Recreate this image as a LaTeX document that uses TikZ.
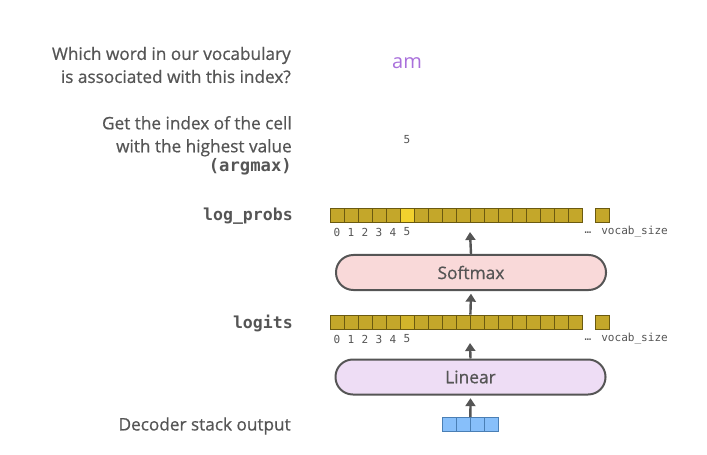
\documentclass[tikz,border=0pt]{standalone}
\usepackage{fontspec}
\setmainfont{Open Sans}
\setmonofont{DejaVu Sans Mono}
\newfontfamily\semifont{Open Sans}[FakeBold=0.7]
\usetikzlibrary{arrows.meta, positioning}

\definecolor{txtgray}{HTML}{555555}
\definecolor{cellgold}{HTML}{C4A72A}
\definecolor{cellhi}{HTML}{F2D12E}
\definecolor{celledge}{HTML}{6B5A10}
\definecolor{vecblue}{HTML}{87BFFA}
\definecolor{vecedge}{HTML}{4A7FB5}
\definecolor{softpink}{HTML}{F9D9D9}
\definecolor{linlav}{HTML}{EEDDF5}
\definecolor{wordpurple}{HTML}{A970DB}

\begin{document}
\begin{tikzpicture}[x=0.75pt, y=0.75pt,
    cell/.style={draw=celledge, line width=0.6pt, fill=cellgold,
                 minimum size=10.5pt, inner sep=0pt},
    vec/.style={draw=vecedge, line width=0.6pt, fill=vecblue,
                minimum size=10.5pt, inner sep=0pt},
    layer/.style={draw=txtgray, line width=1.5pt, rounded corners=13pt,
                  minimum width=202.5pt, minimum height=26.25pt,
                  font=\fontsize{13}{15}\semifont, text=txtgray},
    side/.style={anchor=east, align=right, text=txtgray, inner sep=0pt,
                 font=\fontsize{12.9}{17.25}\semifont},
    tag/.style={anchor=east, text=txtgray, inner sep=0pt,
                font=\fontsize{12.4}{14}\selectfont\ttfamily\bfseries},
    idx/.style={text=txtgray, font=\fontsize{8.3}{10}\selectfont\ttfamily,
                inner sep=0pt},
    up/.style={-{Triangle[length=6pt, width=7.5pt]}, line width=1.8pt,
               draw=txtgray}]
  \useasboundingbox (0,0) rectangle (707,454);

  % Left column texts
  \node[side] (q1) at (291,389)
    {Which word in our vocabulary\\is associated with this index?};
  \node[side] (q2) at (292,308.5)
    {Get the index of the cell\\with the highest value\\[-3pt]{\ttfamily\bfseries (argmax)}};
  \node[tag] (tlp) at (293,238) {log\_probs};
  \node[tag] (tlg) at (293,131) {logits};
  \node[side] (tdec) at (291,28) {Decoder stack output};

  % Results
  \node[text=wordpurple, font=\fontsize{15}{17}\selectfont] (word) at (407,391) {am};
  \node[idx] (argmax) at (407,314) {5};

  % log_probs cells
  \foreach \i in {0,...,17}
    \node[cell] (lp\i) at (337+14*\i,239) {};
  \node[cell, fill=cellhi] at (lp5) {};
  \node[cell] (lpN) at (602,239) {};
  \foreach \i in {0,...,5}
    \node[idx] at (337+14*\i,222) {\i};
  \node[idx] at (588,221) {…};
  \node[idx, anchor=west] at (601,222) {vocab\_size};

  % Softmax
  \node[layer, fill=softpink] (soft) at (471,181.5) {Softmax};

  % logits cells
  \foreach \i in {0,...,17}
    \node[cell] (lg\i) at (337+14*\i,132) {};
  \node[cell, fill=cellgold!70!cellhi] at (lg5) {};
  \node[cell] (lgN) at (602,132) {};
  \foreach \i in {0,...,5}
    \node[idx] at (337+14*\i,115) {\i};
  \node[idx] at (588,114) {…};
  \node[idx, anchor=west] at (601,115) {vocab\_size};

  % Linear
  \node[layer, fill=linlav] (lin) at (470.5,77) {Linear};

  % Decoder output vector
  \foreach \i in {0,...,3}
    \node[vec] (d\i) at (449+14*\i,29.5) {};

  % Arrows
  \coordinate (lgtip) at (470,111);
  \coordinate (lptip) at (470,222);
  \draw[up] (d1.north east) -- ([yshift=-2]lin.south);
  \draw[up] (lin.north) -- (lgtip);
  \draw[up] (lg9.north east) -- ([yshift=-2]soft.south);
  \draw[up] (soft.north) -- (lptip);
\end{tikzpicture}
\end{document}
